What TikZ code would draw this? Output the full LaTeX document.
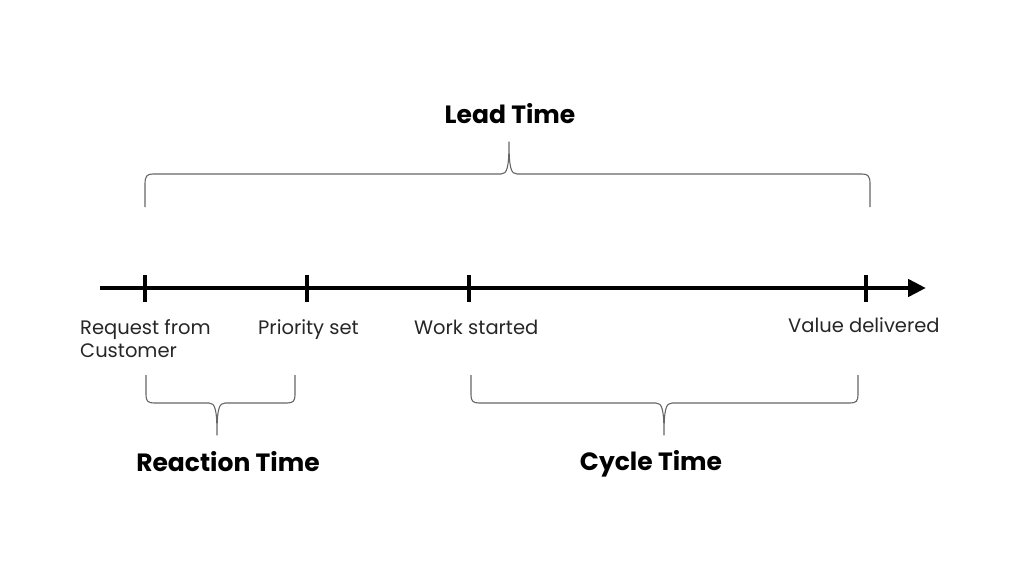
\documentclass[tikz,border=0pt]{standalone}
\usepackage{fontspec}
\setmainfont{Poppins}
\usetikzlibrary{arrows.meta}
\begin{document}
\begin{tikzpicture}[x=1pt,y=-1pt,
  axis/.style={line width=4.5pt,-{Triangle[length=18pt,width=17pt]}},
  tick/.style={line width=4.5pt},
  brace/.style={draw=black!60,line width=1.1pt,line join=round},
  lbl/.style={font=\fontsize{19.5}{23}\selectfont,inner sep=0pt,anchor=base west,text=black!85},
  ttl/.style={font=\fontsize{25}{28}\selectfont\bfseries,inner sep=0pt,anchor=base}]
\useasboundingbox (0,0) rectangle (1024,576);
% axis
\coordinate (a0) at (100,288);
\coordinate (a1) at (926,288);
\draw[axis] (a0) -- (a1);
% ticks
\foreach \n/\x in {t1/145,t2/307,t3/469,t4/866}{
  \coordinate (\n a) at (\x,275);
  \coordinate (\n b) at (\x,302);
  \draw[tick] (\n a) -- (\n b);
}
% labels
\node[lbl,align=left] (req) at (80,357) {Request from\\Customer};
\node[lbl] (pri) at (258,334) {Priority set};
\node[lbl] (work) at (414,334) {Work started};
\node[lbl] (val) at (788,332) {Value delivered};
% lead time brace
\coordinate (l1) at (145,207);
\coordinate (l2) at (870,207);
\coordinate (lm) at (509,142);
\draw[brace] (l1) -- (145,184) .. controls (145,176) and (147,174) .. (153,174)
  -- (501,174) .. controls (507,174) and (509,168) .. (lm)
  .. controls (509,168) and (511,174) .. (517,174)
  -- (862,174) .. controls (868,174) and (870,176) .. (870,184) -- (l2);
\node[ttl] (lead) at (510,123) {Lead Time};
% reaction brace
\coordinate (r1) at (146,375);
\coordinate (r2) at (295,375);
\coordinate (rm) at (217,435);
\draw[brace] (r1) -- (146,395) .. controls (146,401) and (148,403) .. (154,403)
  -- (209,403) .. controls (215,403) and (217,409) .. (rm)
  .. controls (217,409) and (219,403) .. (225,403)
  -- (287,403) .. controls (293,403) and (295,401) .. (295,395) -- (r2);
\node[ttl] (react) at (228,471) {Reaction Time};
% cycle brace
\coordinate (c1) at (471,375);
\coordinate (c2) at (858,375);
\coordinate (cm) at (664,435);
\draw[brace] (c1) -- (471,395) .. controls (471,401) and (473,403) .. (479,403)
  -- (656,403) .. controls (662,403) and (664,409) .. (cm)
  .. controls (664,409) and (666,403) .. (672,403)
  -- (850,403) .. controls (856,403) and (858,401) .. (858,395) -- (c2);
\node[ttl] (cycle) at (651,470) {Cycle Time};
\end{tikzpicture}
\end{document}
